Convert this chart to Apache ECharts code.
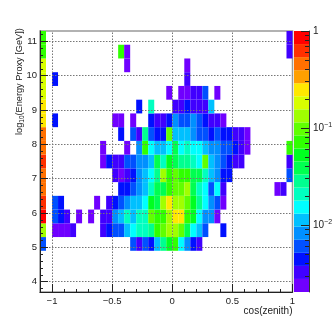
<!DOCTYPE html>
<html>
<head>
<meta charset="utf-8">
<style>html,body{margin:0;padding:0;background:#fff}#c{width:332px;height:318px;filter:blur(0.35px)}</style>
<script src="https://cdn.jsdelivr.net/npm/echarts@6/dist/echarts.min.js"></script>
</head>
<body>
<div id="c"></div>
<script>
const cosLow = -1.1, cosWidth = 0.05;
const energyLow = 3.7, energyWidth = 0.4;
const xMajor = [-1, -0.5, 0, 0.5, 1];
const xMinor = [-1.1,-0.9,-0.8,-0.7,-0.6,-0.4,-0.3,-0.2,-0.1,0.1,0.2,0.3,0.4,0.6,0.7,0.8,0.9];
const yMajor = [4, 5, 6, 7, 8, 9, 10, 11];
const yMinor = [3.8,4.2,4.4,4.6,4.8,5.2,5.4,5.6,5.8,6.2,6.4,6.6,6.8,7.2,7.4,7.6,7.8,8.2,8.4,8.6,8.8,9.2,9.4,9.6,9.8,10.2,10.4,10.6,10.8,11.2];
const zMajor = [0.01, 0.1, 1];
const zMinor = [0.003,0.004,0.005,0.006,0.007,0.008,0.009,0.02,0.03,0.04,0.05,0.06,0.07,0.08,0.09,0.2,0.3,0.4,0.5,0.6,0.7,0.8,0.9];
const zMin = 0.00204, zMax = 1;
const palette = ['#7000ff','#4000ff','#0010ff','#0050ff','#0090ff','#00c0ff','#00ffff','#00ffc0','#00ff90','#00ff50','#00ff20','#30ff00','#60ff00','#a0ff00','#d8ff00','#ffe800','#ffa000','#ff7000','#ff3000','#ff0000'];

// each row: runs of [first column, values...]
const row4p9 = [[0,.006],[15,.006,.0033,.006,.0044,.0112,.0284,.053,.072,.0153,.0082,.0044,.0033]];
const row5p3 = [[0,.134],[2,.0024,.0024,.0024,.0033],[10,.0033,.0044,.006,.006,.0112,.0153,.0208,.0208,.0284,.072,.098,.134,.134,.098,.0387,.0153,.0112,.006],[30,.0044]];
const row5p7 = [[0,.857],[2,.006,.0044,.0033],[6,.0024],[8,.0024],[10,.0033,.0033,.0082,.0112,.0208,.0112,.0208,.0208,.098,.072,.072,.134,.248,.248,.072,.053,.0153,.0082,.0082,.0024]];
const row6p1 = [[0,.628],[2,.006,.0044],[9,.0024],[11,.0033,.0044,.006,.0082,.0112,.0112,.0153,.053,.0387,.134,.248,.134,.134,.098,.053,.0284,.0153,.0082,.006,.0024]];
const row6p5 = [[0,.461],[13,.0044,.0044,.006,.0082,.0112,.0208,.0387,.0387,.072,.098,.098,.134,.0387,.0208,.0153,.006,.0153,.0033],[39,.0024,.0033]];
const row6p9 = [[0,.461],[12,.0033,.0024,.0033,.0044,.0082,.0112,.0153,.0284,.134,.072,.098,.072,.072,.0387,.0387,.0208,.0112,.0082,.0044,.0044],[41,.006]];
const row7p3 = [[0,.628],[10,.0024,.0044,.0033,.0033,.006,.006,.0082,.0082,.0112,.0387,.0208,.053,.0387,.0284,.0284,.0208,.0153,.098,.0112,.0082,.006,.0044,.0033,.0033],[41,.0033]];
const row7p7 = [[0,.461],[10,.0024],[14,.0024],[16,.0082,.072,.0153,.0112,.0112,.0153,.0387,.0153,.0208,.0153,.0153,.0112,.0082,.0082,.006,.006,.0044,.0033,.0024],[41,.072]];
const row8p1 = [[0,.461],[13,.0044],[15,.006,.0033,.0284,.006,.0044,.0044,.098,.0112,.0112,.0112,.0082,.006,.006,.0044,.006,.0044,.0044,.0033,.0033,.0024]];
const row8p5 = [[0,.248],[2,.0044],[12,.0024,.0024],[15,.0024],[18,.0044,.0033,.0033,.0044,.0082,.006,.006,.0082,.006,.0044,.0033,.0033,.0024]];
const row8p9 = [[0,.248],[16,.0044],[18,.0208],[22,.0033,.0033,.0044,.0033,.0033,.0033,.0112]];
const row9p3 = [[0,.182],[21,.0024],[23,.0024,.0024,.0033,.0033,.006],[29,.0024]];
const row9p7 = [[0,.182],[2,.0044],[24,.0033]];
const row10p1 = [[0,.182],[14,.0024],[24,.0024]];
const row10p5 = [[0,.072],[13,.072,.0024],[41,.0033]];
const row10p9 = [[0,.072],[41,.0033]];
const rows = [[3,row4p9],[4,row5p3],[5,row5p7],[6,row6p1],[7,row6p5],[8,row6p9],[9,row7p3],[10,row7p7],[11,row8p1],[12,row8p5],[13,row8p9],[14,row9p3],[15,row9p7],[16,row10p1],[17,row10p5],[18,row10p9]];

const cells = [];
rows.forEach(([r, runs]) => runs.forEach(run => {
  run.slice(1).forEach((v, i) => cells.push([cosLow + cosWidth * (run[0] + i), energyLow + energyWidth * r, v]));
}));
const decades = Math.log10(zMax / zMin);
const bandOf = v => Math.max(0, Math.min(palette.length - 1, Math.floor(Math.log10(v / zMin) / decades * palette.length)));
const barBands = palette.map((c, i) => [zMin * Math.pow(10, decades * i / palette.length), zMin * Math.pow(10, decades * (i + 1) / palette.length), i]);

const ink = '#222';
const gridInk = '#777';
const F = 'Liberation Sans, Arial, sans-serif';
const gridL = 40, gridT = 31, gridW = 252.5, gridH = 261;
const tickX = (idx, vals, len, extra) => Object.assign({gridIndex: 0, type: 'value', min: -1.1, max: 1, position: 'bottom', splitLine: {show: false}, axisLine: {show: false, onZero: false}, axisLabel: {show: false},
  axisTick: {show: true, inside: true, length: len, customValues: vals, lineStyle: {color: ink, width: 1}}, z: 10}, extra || {});
const tickY = (vals, len, extra) => Object.assign({gridIndex: 0, type: 'value', min: 3.7, max: 11.3, position: 'left', splitLine: {show: false}, axisLine: {show: false, onZero: false}, axisLabel: {show: false},
  axisTick: {show: true, inside: true, length: len, customValues: vals, lineStyle: {color: ink, width: 1}}, z: 10}, extra || {});

const option = {
  animation: false,
  backgroundColor: '#fff',
  textStyle: {fontFamily: F},
  grid: [
    {left: gridL, top: gridT, width: gridW, height: gridH, show: true, borderColor: '#999', borderWidth: 1.5, backgroundColor: 'transparent', outerBoundsMode: 'none'},
    {left: 294, top: 31, width: 15, height: 261, outerBoundsMode: 'none'}
  ],
  xAxis: [
    tickX(2, xMajor, gridH, {axisTick: {show: true, inside: true, length: gridH, customValues: [-1, -0.5, 0, 0.5], lineStyle: {color: gridInk, width: 1, type: [1.5, 1.5]}}}),
    tickX(1, xMinor, 3),
    tickX(0, xMajor, 8, {
      axisLine: {show: true, onZero: false, lineStyle: {color: ink, width: 1}},
      axisLabel: {show: true, margin: 4, fontSize: 9.5, color: ink, fontFamily: F, customValues: xMajor,
        formatter: v => String(v).replace('-', '\u2212')},
      name: 'cos(zenith)', nameLocation: 'end', nameGap: 0, nameMoveOverlap: false,
      nameTextStyle: {fontSize: 10, color: ink, fontFamily: F, align: 'right', verticalAlign: 'top', padding: [14, 0, 0, 0]}
    }),
    {gridIndex: 1, type: 'value', min: 0, max: 1, show: false}
  ],
  yAxis: [
    tickY(yMajor, gridW, {axisTick: {show: true, inside: true, length: gridW, customValues: yMajor, lineStyle: {color: gridInk, width: 1, type: [1.5, 1.5]}}}),
    tickY(yMinor, 3),
    tickY(yMajor, 8, {
      axisLine: {show: true, onZero: false, lineStyle: {color: ink, width: 1}},
      axisLabel: {show: true, margin: 3, fontSize: 9.5, color: ink, fontFamily: F, customValues: yMajor},
      name: '{a|log}{s|10}{a|(Energy Proxy [GeV])}', nameLocation: 'end', nameRotate: 90, nameGap: -104, nameMoveOverlap: false,
      nameTextStyle: {color: ink, fontFamily: F, align: 'left', verticalAlign: 'bottom', padding: [0, 0, 14, 0],
        rich: {a: {fontSize: 9.2, color: ink, fontFamily: F}, s: {fontSize: 6.5, color: ink, fontFamily: F, padding: [6, 0, 0, 0]}}}
    }),
    {gridIndex: 1, type: 'log', min: zMin, max: zMax, position: 'right', splitLine: {show: false},
      axisLine: {show: true, onZero: false, lineStyle: {color: '#333', width: 1}},
      axisTick: {show: true, inside: true, length: 8, customValues: zMajor, lineStyle: {color: ink}},
      axisLabel: {show: true, margin: 4, customValues: zMajor, color: ink, fontSize: 10, fontFamily: F,
        formatter: v => v === 1 ? '{b|1}' : '{b|10}{s|' + (v === 0.1 ? '\u22121' : '\u22122') + '}',
        rich: {b: {fontSize: 10, color: ink, fontFamily: F}, s: {fontSize: 7, color: ink, fontFamily: F, padding: [0, 0, 6, 0]}}}, z: 10},
    {gridIndex: 1, type: 'log', min: zMin, max: zMax, position: 'right', splitLine: {show: false}, axisLine: {show: false, onZero: false}, axisLabel: {show: false},
      axisTick: {show: true, inside: true, length: 4, customValues: zMinor, lineStyle: {color: ink}}, z: 10}
  ],
  series: [
    {type: 'custom', xAxisIndex: 0, yAxisIndex: 0, data: cells, encode: {x: 0, y: 1}, clip: true,
      renderItem: (params, api) => {
        const x = api.value(0), y = api.value(1);
        const a = api.coord([x, y + energyWidth]), b = api.coord([x + cosWidth, y]);
        return {type: 'rect', shape: {x: a[0], y: a[1], width: b[0] - a[0], height: b[1] - a[1]},
          style: {fill: palette[bandOf(api.value(2))]}};
      }},
    {type: 'custom', xAxisIndex: 3, yAxisIndex: 3, data: barBands, encode: {y: [0, 1]},
      renderItem: (params, api) => {
        const a = api.coord([0, api.value(1)]), b = api.coord([1, api.value(0)]);
        return {type: 'rect', shape: {x: a[0], y: a[1], width: b[0] - a[0], height: b[1] - a[1]},
          style: {fill: palette[api.value(2)]}};
      }}
  ]
};
const chart = echarts.init(document.getElementById('c'), null, {width: 332, height: 318});
chart.setOption(option);
</script>
</body>
</html>
